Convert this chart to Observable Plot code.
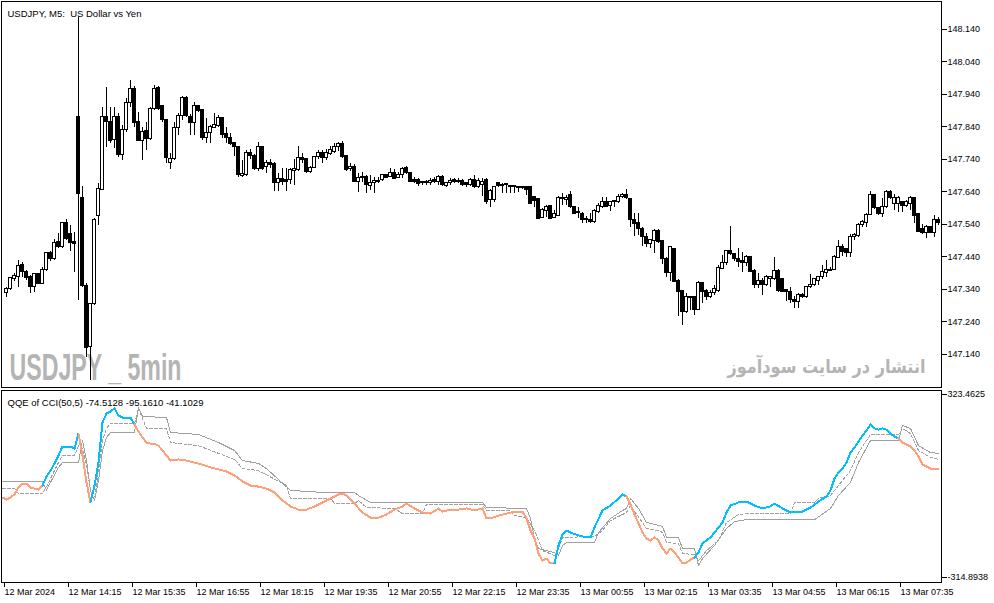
<!DOCTYPE html>
<html>
<head>
<meta charset="utf-8">
<script src="https://cdn.jsdelivr.net/npm/d3@7"></script>
<script src="https://cdn.jsdelivr.net/npm/@observablehq/plot@0.6"></script>
<style>
  body { margin: 0; background: #fff; }
  #chart { position: relative; width: 994px; height: 603px; overflow: hidden; }
  #chart svg { position: absolute; left: 0; display: block; }
  #chart line, #chart rect, #chart path { shape-rendering: crispEdges; }
</style>
</head>
<body>
<div id="chart"></div>
<script>
// USDJPY M5 candles, bars 1..234 (bar 0 is cut off at the left edge)
const opens = [147.328,147.340,147.371,147.377,147.414,147.395,147.377,147.346,147.386,147.358,147.401,147.451,147.432,147.485,147.469,147.543,147.509,147.485,147.869,147.620,147.349,147.164,147.294,147.567,147.647,147.872,147.854,147.801,147.869,147.755,147.829,147.915,147.958,147.854,147.798,147.826,147.804,147.894,147.961,147.903,147.860,147.730,147.740,147.838,147.875,147.930,147.869,147.851,147.903,147.891,147.807,147.820,147.838,147.844,147.866,147.817,147.807,147.789,147.777,147.690,147.691,147.761,147.752,147.709,147.777,147.718,147.730,147.727,147.666,147.681,147.678,147.678,147.703,147.706,147.743,147.740,147.700,147.715,147.746,147.761,147.743,147.758,147.764,147.777,147.786,147.749,147.709,147.718,147.672,147.683,147.687,147.657,147.666,147.675,147.678,147.691,147.687,147.697,147.684,147.691,147.715,147.697,147.678,147.678,147.669,147.666,147.666,147.678,147.672,147.687,147.657,147.666,147.678,147.672,147.675,147.666,147.660,147.678,147.654,147.660,147.678,147.614,147.614,147.666,147.660,147.663,147.657,147.657,147.656,147.654,147.654,147.654,147.623,147.617,147.561,147.580,147.598,147.561,147.567,147.620,147.614,147.629,147.592,147.577,147.573,147.558,147.555,147.546,147.577,147.595,147.608,147.598,147.611,147.608,147.623,147.632,147.617,147.555,147.543,147.525,147.500,147.479,147.488,147.521,147.488,147.432,147.389,147.463,147.367,147.334,147.269,147.313,147.315,147.278,147.361,147.334,147.315,147.328,147.334,147.404,147.420,147.457,147.448,147.435,147.426,147.420,147.441,147.398,147.352,147.367,147.352,147.371,147.371,147.398,147.371,147.337,147.331,147.306,147.300,147.324,147.315,147.346,147.352,147.367,147.377,147.389,147.398,147.401,147.438,147.469,147.463,147.451,147.500,147.503,147.537,147.543,147.570,147.632,147.589,147.573,147.592,147.641,147.604,147.604,147.608,147.598,147.604,147.620,147.573,147.525,147.512,147.531,147.515,147.552];
const highs = [147.346,147.377,147.389,147.429,147.423,147.398,147.383,147.389,147.389,147.407,147.454,147.457,147.494,147.512,147.546,147.555,147.537,147.515,148.177,147.657,147.358,147.297,147.558,147.666,147.900,147.961,147.900,147.900,147.881,147.844,147.927,147.983,147.964,147.884,147.838,147.854,147.900,147.967,147.964,147.906,147.863,147.758,147.854,147.881,147.934,147.934,147.878,147.915,147.906,147.891,147.866,147.844,147.881,147.875,147.869,147.838,147.820,147.792,147.780,147.737,147.768,147.771,147.755,147.792,147.780,147.737,147.740,147.730,147.697,147.712,147.712,147.712,147.740,147.780,147.758,147.743,147.718,147.749,147.768,147.768,147.771,147.780,147.789,147.792,147.795,147.752,147.727,147.724,147.697,147.700,147.691,147.691,147.684,147.684,147.694,147.694,147.712,147.709,147.700,147.715,147.718,147.700,147.684,147.681,147.672,147.675,147.681,147.684,147.691,147.690,147.669,147.681,147.681,147.681,147.678,147.669,147.681,147.691,147.681,147.681,147.681,147.647,147.657,147.669,147.666,147.666,147.657,147.658,147.657,147.657,147.655,147.656,147.626,147.618,147.589,147.598,147.599,147.583,147.626,147.635,147.629,147.641,147.595,147.592,147.577,147.564,147.573,147.586,147.604,147.623,147.623,147.611,147.612,147.632,147.635,147.647,147.620,147.573,147.573,147.531,147.512,147.494,147.525,147.525,147.489,147.438,147.470,147.466,147.371,147.335,147.328,147.318,147.318,147.364,147.362,147.340,147.337,147.352,147.414,147.445,147.460,147.534,147.451,147.466,147.454,147.445,147.442,147.401,147.389,147.374,147.383,147.380,147.438,147.401,147.374,147.340,147.346,147.318,147.328,147.328,147.349,147.386,147.374,147.380,147.414,147.429,147.407,147.445,147.491,147.479,147.466,147.509,147.512,147.543,147.552,147.573,147.641,147.633,147.592,147.620,147.644,147.644,147.632,147.626,147.611,147.614,147.626,147.621,147.574,147.540,147.537,147.534,147.567,147.561];
const lows = [147.315,147.337,147.364,147.346,147.377,147.367,147.328,147.331,147.355,147.355,147.395,147.426,147.429,147.466,147.466,147.491,147.457,147.392,147.306,147.346,147.130,147.060,147.291,147.537,147.644,147.777,147.789,147.774,147.746,147.737,147.823,147.900,147.838,147.795,147.737,147.768,147.798,147.891,147.891,147.854,147.727,147.709,147.737,147.814,147.860,147.869,147.814,147.814,147.884,147.798,147.789,147.789,147.835,147.838,147.804,147.789,147.783,147.749,147.684,147.684,147.687,147.740,147.706,147.703,147.706,147.697,147.712,147.641,147.641,147.660,147.641,147.663,147.660,147.703,147.727,147.697,147.697,147.712,147.740,147.727,147.737,147.752,147.758,147.764,147.743,147.703,147.703,147.669,147.638,147.669,147.635,147.644,147.635,147.666,147.672,147.681,147.684,147.678,147.681,147.681,147.694,147.669,147.666,147.657,147.660,147.660,147.660,147.666,147.660,147.657,147.654,147.660,147.666,147.666,147.657,147.654,147.657,147.651,147.651,147.626,147.601,147.592,147.608,147.654,147.635,147.635,147.635,147.636,147.638,147.647,147.629,147.602,147.592,147.555,147.558,147.561,147.555,147.558,147.564,147.598,147.598,147.589,147.570,147.558,147.543,147.543,147.543,147.543,147.573,147.589,147.592,147.580,147.592,147.604,147.620,147.617,147.530,147.503,147.506,147.472,147.469,147.466,147.451,147.482,147.417,147.377,147.364,147.361,147.257,147.229,147.266,147.275,147.260,147.275,147.297,147.306,147.312,147.321,147.331,147.401,147.414,147.445,147.426,147.407,147.392,147.411,147.392,147.343,147.343,147.321,147.349,147.346,147.367,147.331,147.330,147.303,147.297,147.281,147.281,147.312,147.312,147.343,147.349,147.352,147.371,147.377,147.395,147.398,147.437,147.441,147.438,147.438,147.491,147.500,147.530,147.530,147.567,147.586,147.567,147.561,147.589,147.617,147.583,147.577,147.577,147.592,147.583,147.543,147.515,147.509,147.497,147.512,147.500,147.537];
const closes = [147.340,147.374,147.380,147.411,147.392,147.374,147.346,147.386,147.358,147.401,147.451,147.432,147.482,147.469,147.543,147.494,147.482,147.479,147.635,147.349,147.161,147.294,147.552,147.650,147.872,147.854,147.798,147.869,147.755,147.829,147.915,147.958,147.851,147.798,147.823,147.804,147.894,147.958,147.894,147.860,147.743,147.740,147.838,147.875,147.930,147.875,147.851,147.903,147.888,147.807,147.820,147.841,147.847,147.866,147.814,147.807,147.786,147.777,147.691,147.695,147.761,147.752,147.709,147.777,147.709,147.730,147.724,147.666,147.681,147.672,147.670,147.706,147.712,147.743,147.737,147.700,147.715,147.746,147.761,147.743,147.761,147.768,147.777,147.786,147.746,147.706,147.718,147.672,147.684,147.687,147.660,147.666,147.675,147.669,147.691,147.684,147.697,147.681,147.691,147.712,147.697,147.672,147.672,147.663,147.666,147.669,147.675,147.672,147.687,147.660,147.666,147.675,147.672,147.675,147.660,147.660,147.678,147.654,147.675,147.672,147.608,147.644,147.654,147.657,147.657,147.660,147.654,147.654,147.653,147.651,147.647,147.604,147.611,147.558,147.583,147.595,147.558,147.573,147.620,147.617,147.620,147.592,147.573,147.574,147.552,147.555,147.546,147.580,147.598,147.608,147.595,147.608,147.608,147.623,147.632,147.620,147.552,147.540,147.525,147.500,147.479,147.491,147.521,147.485,147.432,147.389,147.469,147.364,147.331,147.269,147.315,147.316,147.278,147.361,147.331,147.315,147.328,147.340,147.407,147.420,147.457,147.448,147.432,147.423,147.420,147.441,147.395,147.352,147.367,147.352,147.377,147.377,147.398,147.334,147.331,147.331,147.306,147.300,147.324,147.315,147.346,147.355,147.371,147.377,147.392,147.401,147.401,147.441,147.469,147.454,147.451,147.500,147.506,147.537,147.546,147.570,147.632,147.589,147.573,147.595,147.641,147.620,147.620,147.620,147.598,147.608,147.620,147.567,147.518,147.512,147.531,147.515,147.552,147.543];
const priceTicks = [148.14, 148.04, 147.94, 147.84, 147.74, 147.64, 147.54, 147.44, 147.34, 147.24, 147.14];

// QQE of CCI(50,5): main line, sampled by bar
const qqeBars = [0,1,2,3,4,5,6,7,8,9,10,11,12,13,14,15,16,17,18,19,20,21,22,23,24,25,26,27,28,29,30,31,32,33,34,35,36,37,38,39,40,41,42,44,46,48,50,52,54,56,58,60,62,64,66,68,70,72,74,76,78,80,82,84,85,86,88,90,92,94,96,98,100,101,103,105,107,109,110,112,114,116,118,120,121,122,124,126,128,130,131,132,133,134,135,136,137,138,139,140,141,142,144,146,147,148,150,152,154,155,156,157,158,159,160,161,162,163,164,165,166,167,168,169,170,171,172,173,174,175,177,178,180,181,182,184,186,188,190,192,193,195,197,199,200,202,204,206,207,208,209,210,211,212,213,214,215,216,217,218,219,220,221,222,223,224,225,226,227,228,229,230,231,232,233,234];
const qqeMain = [-36,-43,-36,-25,-1,13,13,-1,-5,-8,6,37,58,83,111,142,142,142,135,187,111,17,-53,6,86,226,257,264,275,250,243,243,243,219,194,173,156,152,152,145,128,111,93,97,93,86,79,69,62,55,41,20,6,2,-5,-18,-46,-67,-78,-78,-67,-53,-39,-25,-22,-29,-57,-88,-106,-106,-95,-78,-67,-57,-74,-88,-92,-74,-85,-78,-78,-74,-81,-74,-109,-109,-99,-92,-85,-85,-109,-151,-179,-231,-256,-249,-266,-266,-203,-165,-151,-158,-168,-175,-175,-140,-81,-64,-39,-25,-32,-60,-95,-126,-158,-179,-186,-175,-186,-214,-231,-214,-228,-245,-266,-263,-252,-245,-228,-196,-175,-158,-123,-88,-64,-53,-50,-64,-74,-67,-57,-74,-88,-88,-85,-71,-50,-32,-11,30,51,65,86,121,139,160,180,198,219,205,201,205,201,187,177,170,156,149,142,128,107,79,72,65,62,62];
// bars where the main line changes colour (falling, rising, falling, ...)
const trendBreaks = [0, 10, 19, 22, 33, 138, 156, 173, 224, 234];

// slow trailing level (solid) and fast trailing level (dashed)
const slowBars = [0,10,11,12,14,15,18,19,20,21,22,23,24,25,26,27,33,34,35,41,42,49,54,58,60,64,66,72,80,88,89,92,120,121,131,132,133,134,138,139,140,141,148,149,152,155,156,157,159,161,164,165,166,169,170,173,174,175,178,181,183,186,203,207,209,212,214,217,224,225,227,229,232,234];
const slowVals = [20,20,-11,17,69,86,86,86,163,93,-11,-46,23,128,173,191,191,278,247,243,191,184,156,128,93,83,65,-11,-18,-18,-29,-53,-53,-71,-74,-109,-179,-214,-228,-238,-203,-193,-193,-158,-109,-81,-74,-39,-74,-123,-133,-137,-175,-175,-214,-214,-273,-249,-203,-144,-120,-113,-113,-74,-29,17,86,163,163,215,205,145,121,118];
const fastBars = [0,3,4,10,11,12,14,15,18,19,20,21,22,23,24,25,26,27,33,34,35,36,41,42,49,54,58,60,64,71,72,82,83,88,89,91,98,100,105,106,120,121,127,128,131,133,135,138,139,140,148,150,152,156,157,161,164,165,166,169,170,173,174,176,179,181,184,186,197,198,203,204,207,209,212,214,217,224,225,227,229,232,234];
const fastVals = [-5,-5,-22,-22,2,30,86,111,111,145,135,76,-11,-46,58,163,205,222,222,275,240,205,205,156,145,118,97,65,58,6,-39,-39,-57,-57,-46,-71,-74,-92,-92,-60,-60,-81,-81,-99,-106,-151,-221,-238,-214,-175,-172,-151,-116,-88,-64,-144,-151,-158,-193,-196,-231,-235,-256,-221,-186,-123,-95,-92,-92,-53,-53,-39,-29,6,58,121,184,184,205,187,128,104,97];
const qqeTicks = [323.4625, -314.8938];

// time axis: one label every 16 bars
const timeTickBars = [0,16,32,48,64,80,96,112,128,144,160,176,192,208,224];
const timeTickLabels = ["12 Mar 2024","12 Mar 14:15","12 Mar 15:35","12 Mar 16:55","12 Mar 18:15","12 Mar 19:35","12 Mar 20:55","12 Mar 22:15","12 Mar 23:35","13 Mar 00:55","13 Mar 02:15","13 Mar 03:35","13 Mar 04:55","13 Mar 06:15","13 Mar 07:35"];

const candles = opens.map((o, k) => ({bar: k + 1, open: o, high: highs[k], low: lows[k], close: closes[k]}));

const mainRows = [];
for (let s = 0; s < trendBreaks.length - 1; s++) {
  const color = s % 2 === 0 ? "#ffa07a" : "#00bfff";
  qqeBars.forEach((b, k) => {
    if (b >= trendBreaks[s] && b <= trendBreaks[s + 1]) {
      mainRows.push({bar: b, value: qqeMain[k], seg: s, color});
    }
  });
}
const slowRows = slowBars.map((b, k) => ({bar: b, value: slowVals[k]}));
const fastRows = fastBars.map((b, k) => ({bar: b, value: fastVals[k]}));

const baseStyle = {fontFamily: "'Liberation Sans', Arial, sans-serif", fontSize: "9px", background: "white", color: "black"};
const barDomain = [-0.25, 234.75];

const priceChart = Plot.plot({
  width: 994,
  height: 389,
  marginTop: 1,
  marginBottom: 2,
  marginLeft: 1,
  marginRight: 53,
  style: baseStyle,
  x: {domain: barDomain, axis: null},
  y: {domain: [147.038, 148.226]},
  marks: [
    Plot.frame({stroke: "black"}),
    Plot.text(["USDJPY _ 5min"], {frameAnchor: "bottom-left", lineAnchor: "middle", dx: 8, dy: -19, textAnchor: "start", fontSize: 37, fontWeight: "bold", fontFamily: "'Liberation Sans', sans-serif", fill: "#b4b4b4", className: "mark-left"}),
    Plot.text(["انتشار در سایت سودآموز"], {frameAnchor: "bottom-right", lineAnchor: "middle", dx: -16, dy: -21, textAnchor: "end", fontSize: 19, fontWeight: "bold", fontFamily: "'DejaVu Sans', sans-serif", fill: "#b4b4b4", className: "mark-right"}),
    Plot.ruleX(candles, {x: "bar", y1: "low", y2: "high", stroke: "black"}),
    Plot.rect(candles.filter(d => d.close >= d.open), {x1: d => d.bar - 0.3, x2: d => d.bar + 0.3, y1: "open", y2: "close", fill: "white", stroke: "black"}),
    Plot.rect(candles.filter(d => d.close < d.open), {x1: d => d.bar - 0.3, x2: d => d.bar + 0.3, y1: "open", y2: "close", fill: "black", stroke: "black"}),
    Plot.text(["USDJPY, M5:\u00a0 US Dollar vs Yen"], {frameAnchor: "top-left", dx: 6, dy: 9, textAnchor: "start", fontSize: 9.5}),
    Plot.axisY({anchor: "right", ticks: priceTicks, tickFormat: d => d.toFixed(3), tickSize: 5, tickPadding: 1, label: null})
  ]
});
priceChart.style.top = "0px";

// squeeze the two watermark captions to the width they take in the terminal
d3.select(priceChart).selectAll("g.mark-left text").attr("textLength", 172).attr("lengthAdjust", "spacingAndGlyphs");
d3.select(priceChart).selectAll("g.mark-right text").attr("textLength", 198).attr("lengthAdjust", "spacingAndGlyphs");

const qqeChart = Plot.plot({
  width: 994,
  height: 214,
  marginTop: 1,
  marginBottom: 21,
  marginLeft: 1,
  marginRight: 53,
  style: baseStyle,
  x: {domain: barDomain},
  y: {domain: [-332.3, 337.4]},
  color: {type: "identity"},
  marks: [
    Plot.frame({stroke: "black"}),
    Plot.line(slowRows, {x: "bar", y: "value", stroke: "#a0a0a0", strokeWidth: 1}),
    Plot.line(fastRows, {x: "bar", y: "value", stroke: "#a0a0a0", strokeWidth: 1, strokeDasharray: "3,2"}),
    Plot.line(mainRows, {x: "bar", y: "value", z: "seg", stroke: "color", strokeWidth: 2}),
    Plot.text(["QQE of CCI(50,5) -74.5128 -95.1610 -41.1029"], {frameAnchor: "top-left", dx: 6, dy: 9, textAnchor: "start", fontSize: 9.5}),
    Plot.axisX({ticks: timeTickBars, tickFormat: d => timeTickLabels[timeTickBars.indexOf(d)], tickSize: 5, tickPadding: 1, textAnchor: "start", dx: 2, label: null}),
    Plot.axisY({anchor: "right", ticks: qqeTicks, tickFormat: d => d.toFixed(4), tickSize: 5, tickPadding: 1, label: null})
  ]
});
qqeChart.style.top = "389px";

const chart = document.getElementById("chart");
chart.appendChild(priceChart);
chart.appendChild(qqeChart);
</script>
</body>
</html>
